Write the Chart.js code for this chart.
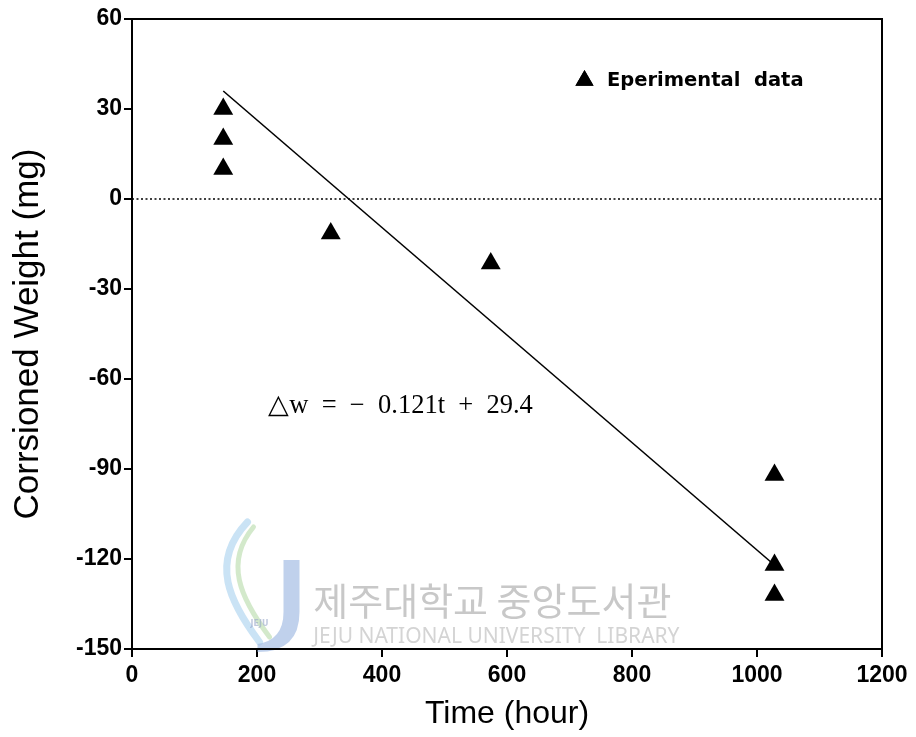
<!DOCTYPE html>
<html>
<head>
<meta charset="utf-8">
<script src="https://cdn.jsdelivr.net/npm/chart.js@4/dist/chart.umd.min.js"></script>
<style>
    body { margin: 0; background: #fff; }
    canvas { display: block; }
</style>
</head>
<body>
<canvas id="weightChart" width="916" height="737"></canvas>
<script>
// measured points (time in hours, weight change in mg)
const pointTimes = [146, 146, 146, 318, 574, 1028, 1028, 1028];
const pointWeights = [30, 20, 10, -11.5, -21.5, -92, -122, -132];

// fitted line as drawn in the figure
const fitTimes = [146, 1025];
const fitWeights = [36, -121.5];

// dotted reference line at zero
const zeroTimes = [0, 1200];
const zeroWeights = [0, 0];

const xTickStep = 200;
const yTickStep = 30;

const legendLabel = 'Eperimental  data';
const equationLabel = '\u25B3w  =  \u2212  0.121t  +  29.4';
const watermarkKo = '제주대학교 중앙도서관';
const watermarkEn = 'JEJU NATIONAL UNIVERSITY  LIBRARY';

const toXY = (xs, ys) => xs.map((x, i) => ({ x: x, y: ys[i] }));

// watermark, frame, legend and equation text
const decorations = {
    id: 'decorations',
    beforeDatasetsDraw(chart) {
        const ctx = chart.ctx;
        const x = chart.scales.x;
        const y = chart.scales.y;
        ctx.save();

        // faint library logo
        const lx = x.getPixelForValue(140);
        const ly = y.getPixelForValue(-111);
        ctx.lineCap = 'round';
        ctx.strokeStyle = 'rgba(150, 200, 235, 0.5)';
        ctx.lineWidth = 7;
        ctx.beginPath();
        ctx.moveTo(lx + 28, ly - 10);
        ctx.bezierCurveTo(lx - 10, ly + 30, lx + 10, ly + 70, lx + 40, ly + 110);
        ctx.stroke();
        ctx.strokeStyle = 'rgba(175, 215, 160, 0.55)';
        ctx.lineWidth = 5;
        ctx.beginPath();
        ctx.moveTo(lx + 34, ly - 5);
        ctx.bezierCurveTo(lx + 5, ly + 30, lx + 20, ly + 65, lx + 50, ly + 105);
        ctx.stroke();
        ctx.fillStyle = 'rgba(165, 190, 228, 0.7)';
        ctx.beginPath();
        ctx.moveTo(lx + 64, ly + 28);
        ctx.lineTo(lx + 80, ly + 28);
        ctx.lineTo(lx + 80, ly + 80);
        ctx.quadraticCurveTo(lx + 80, ly + 120, lx + 38, ly + 120);
        ctx.lineTo(lx + 38, ly + 112);
        ctx.quadraticCurveTo(lx + 64, ly + 108, lx + 64, ly + 80);
        ctx.closePath();
        ctx.fill();
        ctx.fillStyle = 'rgba(150, 165, 200, 0.6)';
        ctx.font = 'bold 8px "DejaVu Sans"';
        ctx.textAlign = 'center';
        ctx.textBaseline = 'middle';
        ctx.fillText('JEJU', lx + 40, ly + 92);

        // faint library name
        ctx.fillStyle = '#c8c8c8';
        ctx.textAlign = 'left';
        ctx.font = '38px "Noto Sans CJK KR"';
        ctx.fillText(watermarkKo, x.getPixelForValue(290), y.getPixelForValue(-133.7));
        ctx.fillStyle = '#d4d4d4';
        ctx.font = '21px "Noto Sans"';
        ctx.fillText(watermarkEn, x.getPixelForValue(290), y.getPixelForValue(-146));
        ctx.restore();
    },
    afterDraw(chart) {
        const ctx = chart.ctx;
        const area = chart.chartArea;
        const x = chart.scales.x;
        const y = chart.scales.y;
        ctx.save();

        // box around the plot
        ctx.strokeStyle = '#000';
        ctx.lineWidth = 2;
        ctx.strokeRect(area.left, area.top, area.right - area.left, area.bottom - area.top);

        // legend
        ctx.fillStyle = '#000';
        Chart.helpers.drawPoint(ctx, { pointStyle: 'triangle', radius: 10.5, borderWidth: 0 },
            x.getPixelForValue(724), y.getPixelForValue(39.5));
        ctx.fill();
        ctx.font = 'bold 19.5px "DejaVu Sans"';
        ctx.textAlign = 'left';
        ctx.textBaseline = 'middle';
        ctx.fillText(legendLabel, x.getPixelForValue(760), y.getPixelForValue(39.5));

        // regression equation
        ctx.font = '26.5px "Liberation Serif"';
        ctx.fillText(equationLabel, x.getPixelForValue(218), y.getPixelForValue(-69));
        ctx.restore();
    }
};

const ctx = document.getElementById('weightChart').getContext('2d');

new Chart(ctx, {
    type: 'scatter',
    data: {
        datasets: [
            {
                label: 'zero',
                data: toXY(zeroTimes, zeroWeights),
                showLine: true,
                borderColor: '#000',
                borderWidth: 1.5,
                borderDash: [2, 2.5],
                pointRadius: 0
            },
            {
                label: 'fit',
                data: toXY(fitTimes, fitWeights),
                showLine: true,
                borderColor: '#000',
                borderWidth: 1.6,
                pointRadius: 0
            },
            {
                label: 'Eperimental data',
                data: toXY(pointTimes, pointWeights),
                pointStyle: 'triangle',
                pointRadius: 11.5,
                pointBackgroundColor: '#000',
                pointBorderWidth: 0
            }
        ]
    },
    options: {
        responsive: false,
        devicePixelRatio: 1,
        animation: false,
        layout: {
            padding: { top: 19, right: 34, left: 0, bottom: 0 }
        },
        plugins: {
            legend: { display: false },
            tooltip: { enabled: false }
        },
        scales: {
            x: {
                type: 'linear',
                min: 0,
                max: 1200,
                afterFit: (scale) => { scale.height = 88; },
                ticks: {
                    stepSize: xTickStep,
                    color: '#000',
                    padding: 5,
                    maxRotation: 0,
                    callback: (value) => String(value),
                    font: { family: '"Liberation Sans", Arial', size: 23, weight: 'bold' }
                },
                grid: {
                    drawOnChartArea: false,
                    tickLength: 8,
                    color: '#000',
                    lineWidth: 2
                },
                border: { color: '#000', width: 2 },
                title: {
                    display: true,
                    text: 'Time (hour)',
                    color: '#000',
                    padding: { top: 0, bottom: 4 },
                    font: { family: '"Liberation Sans", Arial', size: 32 }
                }
            },
            y: {
                min: -150,
                max: 60,
                afterFit: (scale) => { scale.width = 132; },
                ticks: {
                    stepSize: yTickStep,
                    color: '#000',
                    padding: 2,
                    callback: (value) => String(value),
                    font: { family: '"Liberation Sans", Arial', size: 23, weight: 'bold' }
                },
                grid: {
                    drawOnChartArea: false,
                    tickLength: 8,
                    color: '#000',
                    lineWidth: 2
                },
                border: { color: '#000', width: 2 },
                title: {
                    display: true,
                    text: 'Corrsioned Weight (mg)',
                    color: '#000',
                    padding: { top: 7, bottom: 0 },
                    font: { family: '"Liberation Sans", Arial', size: 35 }
                }
            }
        }
    },
    plugins: [decorations]
});
</script>
</body>
</html>
